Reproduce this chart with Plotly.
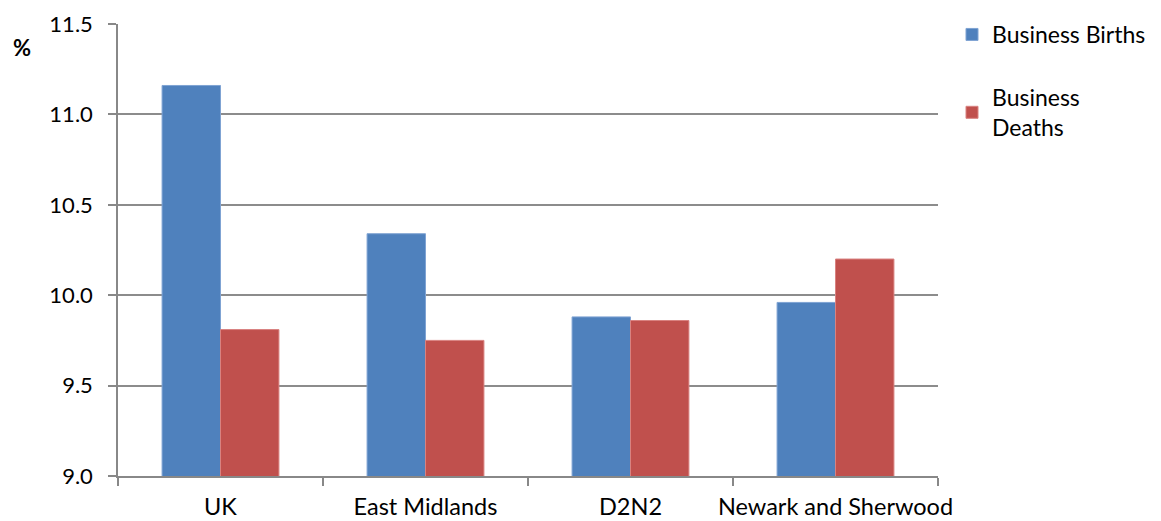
import plotly.graph_objects as go

categories = ["UK", "East Midlands", "D2N2", "Newark and Sherwood"]
births = [11.16, 10.34, 9.88, 9.96]
deaths = [9.81, 9.75, 9.86, 10.20]
y_ticks = [9.0, 9.5, 10.0, 10.5, 11.0, 11.5]
y_tick_labels = ["9.0", "9.5", "10.0", "10.5", "11.0", "11.5"]

FONT = "Lato, Calibri, Carlito, sans-serif"

# figure is drawn inside the page body (8px default margin)
W, H = 1153, 513
L, T = 110, 16
R = W - 930
B = H - 468
pw, ph = W - L - R, H - T - B

fig = go.Figure()
fig.add_trace(go.Bar(x=categories, y=births, name="Business Births",
                     marker=dict(color="#4F81BD", line=dict(color="#7FA3D3", width=1)),
                     legendgroup="a"))
fig.add_trace(go.Bar(x=categories, y=deaths, name="Business<br>Deaths",
                     marker=dict(color="#C0504D", line=dict(color="#D98280", width=1)),
                     legendgroup="b"))

fig.update_layout(
    width=W, height=H,
    margin=dict(l=L, r=R, t=T, b=B, autoexpand=False),
    paper_bgcolor="white", plot_bgcolor="white",
    font=dict(family=FONT, size=22, color="#000000"),
    barmode="group", bargap=0.43, bargroupgap=0,
    legend=dict(x=(944 - L) / pw, y=1 + (T - 5) / ph, xanchor="left", yanchor="top",
                font=dict(size=23), tracegroupgap=30, traceorder="grouped",
                itemwidth=30),
    showlegend=True,
    xaxis=dict(showline=True, linecolor="#888888", linewidth=1.5,
               ticks="outside", tickson="boundaries", ticklen=8,
               tickcolor="#888888", tickwidth=1.5, showgrid=False,
               tickangle=0, automargin=False, ticklabelstandoff=9,
               tickfont=dict(size=23.5)),
    yaxis=dict(range=[9.0, 11.5], tickvals=y_ticks, ticktext=y_tick_labels,
               showline=True, linecolor="#888888", linewidth=1.5,
               ticks="outside", ticklen=8, tickcolor="#888888", tickwidth=1.5,
               showgrid=True, gridcolor="#8c8c8c", gridwidth=1.5,
               zeroline=False, automargin=False, ticklabelstandoff=11,
               tickfont=dict(size=22)),
    annotations=[dict(text="<b>%</b>", x=(14 - L) / pw, y=(H - B - 39) / ph,
                      xref="paper", yref="paper", showarrow=False,
                      xanchor="center", yanchor="middle", font=dict(size=22))],
)

fig.write_html("out.html")
